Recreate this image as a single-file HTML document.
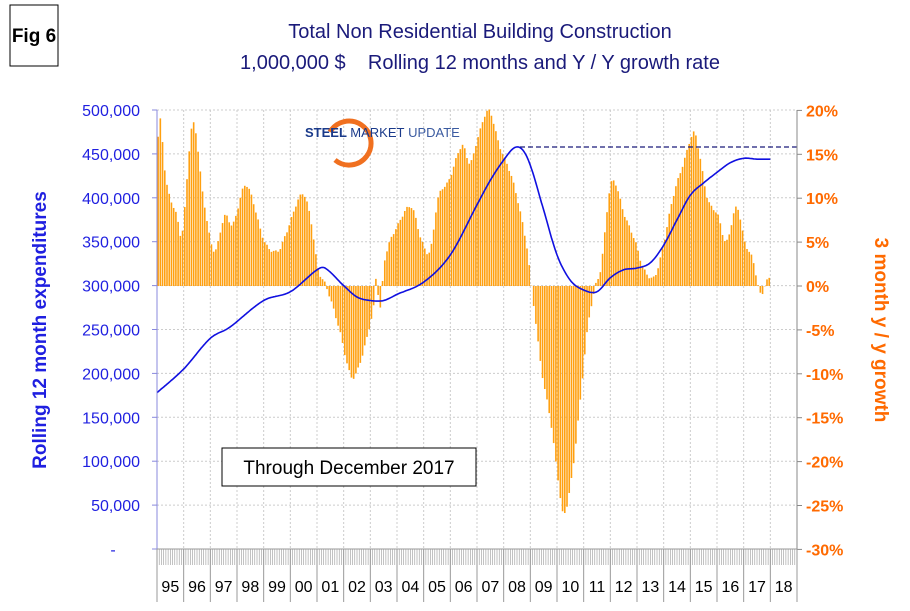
<!DOCTYPE html>
<html><head><meta charset="utf-8"><style>
body{margin:0;background:#fff;width:910px;height:606px;overflow:hidden;font-family:"Liberation Sans",sans-serif}
</style></head><body>
<svg id="s" width="910" height="606" xmlns="http://www.w3.org/2000/svg" font-family="Liberation Sans, sans-serif">
<rect x="10" y="5" width="48" height="61" fill="#fff" stroke="#000" stroke-width="1"/>
<text x="34" y="42" font-size="19" font-weight="bold" text-anchor="middle">Fig 6</text>
<text x="480" y="38" font-size="20" fill="#1a1a7a" text-anchor="middle">Total Non Residential Building Construction</text>
<text x="480" y="69" font-size="20" fill="#1a1a7a" text-anchor="middle">1,000,000 $ &#160;&#160; Rolling 12 months and Y / Y growth rate</text>
<g id="grid"></g>
<g id="bars"></g>
<g id="axes"></g>
<text transform="translate(46,330) rotate(-90)" font-size="19" font-weight="bold" fill="#1f1fe0" text-anchor="middle">Rolling 12 month expenditures</text>
<text transform="translate(875,330) rotate(90)" font-size="19" font-weight="bold" fill="#ff6a00" text-anchor="middle">3 month y / y growth</text>
<path d="M330 132 A22 22 0 1 1 335 160" fill="none" stroke="#f07020" stroke-width="5"/>
<text x="305" y="137" font-size="13" font-weight="bold" fill="#1a3a8a">STEEL <tspan font-weight="normal">MARKET</tspan> <tspan font-weight="normal" fill="#3a5aa0">UPDATE</tspan></text>
<rect x="222" y="448" width="254" height="38" fill="#fff" stroke="#000"/>
<text x="349" y="474" font-size="19" text-anchor="middle">Through December 2017</text>
</svg>
<script>
var s=document.getElementById('s'),NS="http://www.w3.org/2000/svg";
function el(p,t,a,tx){var e=document.createElementNS(NS,t);for(var k in a)e.setAttribute(k,a[k]);if(tx!=null)e.textContent=tx;(typeof p=='string'?document.getElementById(p):p).appendChild(e);return e;}
var X0=157,YW=26.667,Y0=549,Y1=110;
function xf(t){return X0+(t-95)*YW;}
function yv(v){return Y0-v/500*439;}
function yp(p){return 286-p*8.78;}
for(var i=1;i<=10;i++){el('grid','line',{x1:157,x2:797,y1:yv(i*50),y2:yv(i*50),stroke:'#ccc','stroke-dasharray':'2,2'});}
for(var i=1;i<24;i++){var x=X0+i*YW;el('grid','line',{x1:x,x2:x,y1:110,y2:549,stroke:'#ccc','stroke-dasharray':'2,2'});}
function interp(pts,t){var n=pts.length;for(var i=0;i<n-1;i++){if(t>=pts[i][0]&&t<=pts[i+1][0]){var a=pts[i],b=pts[i+1],f=(t-a[0])/(b[0]-a[0]);
var p0=pts[Math.max(i-1,0)],p3=pts[Math.min(i+2,n-1)],h=b[0]-a[0];
var m1=(b[1]-p0[1])/(b[0]-p0[0])*h,m2=(p3[1]-a[1])/(p3[0]-a[0])*h;
var f2=f*f,f3=f2*f;return (2*f3-3*f2+1)*a[1]+(f3-2*f2+f)*m1+(-2*f3+3*f2)*b[1]+(f3-f2)*m2;}}return pts[n-1][1];}
var G=[[95,17],[95.08,19],[95.3,12],[95.7,8],[95.9,6],[96.3,18.5],[96.7,10],[97.1,4],[97.5,8],[97.8,7],[98.3,11.5],[99,5],[99.5,4],[99.8,6],[100.4,10.5],[100.7,8],[101,2],[101.3,0],[101.8,-5],[102.1,-9],[102.3,-10.5],[102.6,-8.5],[102.9,-5],[103.1,-2],[103.2,1.5],[103.3,-3],[103.5,3],[104,7],[104.5,9],[104.9,5],[105.2,4],[105.5,10],[105.9,12],[106.4,16],[106.7,14],[107,17],[107.4,20],[107.8,16],[108.3,12],[108.8,5],[109,0],[109.4,-10],[109.7,-15],[110,-22],[110.2,-26],[110.5,-22],[110.8,-14],[111.1,-5],[111.4,0],[111.6,2],[112,11.8],[112.5,8],[112.9,5],[113.2,2],[113.6,1],[113.9,4],[114.3,10],[114.7,14],[115.1,17.5],[115.3,15],[115.6,10],[116,8],[116.3,5],[116.7,9],[117,5],[117.3,3],[117.6,-1],[117.8,0.5],[118,1]];
var L=[[95,178],[96,205],[97,240],[97.7,252],[99,283],[100,293],[101,318],[101.3,320],[102,300],[102.5,287],[103,283],[103.5,283],[104,290],[105,304],[106,335],[107,392],[107.5,420],[108,443],[108.4,457],[108.7,455],[109,437],[109.5,386],[110,335],[110.5,306],[111,295],[111.5,293],[112,309],[112.5,318],[113,320],[113.5,326],[114,346],[114.5,375],[115,403],[115.5,417],[116,429],[116.5,440],[117,445],[117.5,444],[118,444]];
var d='';
for(var m=0;m<276;m++){var t=95+m/12+1/24,p=interp(G,95+m/12)+Math.sin(m*1.7)*0.15;var x=xf(t),y=yp(p);
el('bars','rect',{x:x-0.8,width:1.6,y:Math.min(y,286),height:Math.abs(y-286),fill:'#ffa010'});}
for(var k=0;k<=276*2;k++){var t=95+k/24;var v=interp(L,t);d+=(k?'L':'M')+xf(t).toFixed(1)+' '+yv(v).toFixed(1);}
el('bars','path',{d:d,fill:'none',stroke:'#1010e0','stroke-width':1.6});
el('bars','line',{x1:520,x2:797,y1:147,y2:147,stroke:'#1a1a7a','stroke-dasharray':'5,3','stroke-width':1.3});
el('axes','line',{x1:157,x2:157,y1:110,y2:549,stroke:'#8888dd'});
el('axes','line',{x1:797,x2:797,y1:110,y2:549,stroke:'#888'});
el('axes','line',{x1:152,x2:797,y1:549,y2:549,stroke:'#999'});
var labs=['-','50,000','100,000','150,000','200,000','250,000','300,000','350,000','400,000','450,000','500,000'];
for(var i=0;i<=10;i++){var y=yv(i*50);el('axes','line',{x1:152,x2:157,y1:y,y2:y,stroke:'#8888dd'});
el('axes','text',{x:i?140:113,y:y+6,'font-size':16,fill:'#1f1fe0','text-anchor':i?'end':'middle'},labs[i]);}
for(var i=0;i<=10;i++){var p=20-i*5,y=yp(p);el('axes','line',{x1:797,x2:802,y1:y,y2:y,stroke:'#888'});
el('axes','text',{x:806,y:y+6,'font-size':16,'font-weight':'bold',fill:'#ff6a00'},p+'%');}
for(var m=0;m<=288;m++){var x=X0+m*YW/12;el('axes','line',{x1:x,x2:x,y1:549,y2:565,stroke:'#999','stroke-width':0.6});}
for(var i=0;i<=24;i++){var x=X0+i*YW;el('axes','line',{x1:x,x2:x,y1:549,y2:602,stroke:'#999'});
if(i<24){var yr=(95+i)%100;el('axes','text',{x:x+YW/2,y:592,'font-size':16,'text-anchor':'middle'},(yr<10?'0':'')+yr);}}
</script>
</body></html>
